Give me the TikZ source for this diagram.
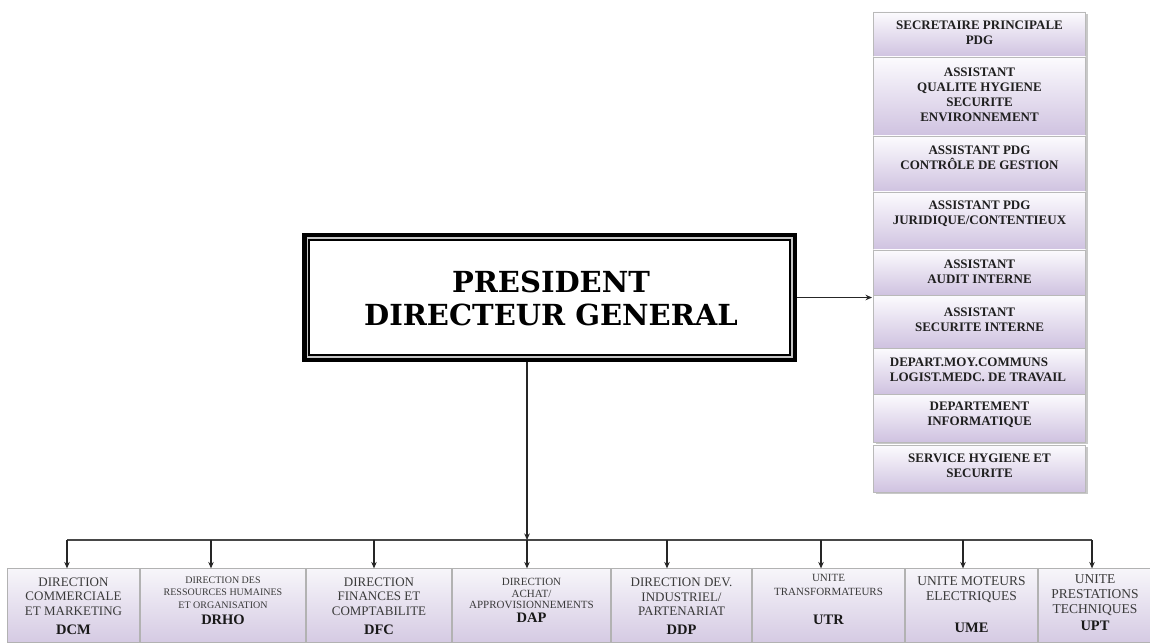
\documentclass[tikz,border=0pt]{standalone}
\usepackage{fontspec}
\setmainfont{Liberation Serif}
\newfontfamily\heavy{DejaVu Serif}
\usetikzlibrary{arrows.meta,shadows}
\definecolor{lavA}{HTML}{FCFBFE}
\definecolor{lavB}{HTML}{CFC2E0}
\definecolor{lavC}{HTML}{F7F6FA}
\definecolor{lavD}{HTML}{D5CAE3}
\definecolor{txtg}{HTML}{3A3A3A}
\begin{document}
\begin{tikzpicture}[x=1pt,y=-1pt,
  rbox/.style={draw=gray!55, line width=0.8pt, top color=lavA, bottom color=lavB,
    minimum width=212.2pt, inner sep=0pt, outer sep=0pt,
    drop shadow={shadow xshift=2.5pt, shadow yshift=-2pt, fill=gray!60, opacity=0.7}},
  rtext/.style={font=\bfseries\fontsize{13}{15}\selectfont, align=center, inner sep=0pt, text=black!88},
  bbox/.style={draw=gray!60, line width=0.8pt, top color=lavC, bottom color=lavD,
    minimum height=74.2pt, inner sep=0pt, outer sep=0pt},
  btext/.style={font=\fontsize{13}{14.5}\selectfont, align=center, inner sep=0pt, text=txtg},
  bcode/.style={font=\bfseries\fontsize{14.5}{16}\selectfont, inner sep=0pt, text=black!90},
  arr/.style={-{Stealth[length=6.5pt,width=5.5pt]}, line width=1.3pt, draw=black!85},
  busline/.style={line width=2.8pt, draw=black!72},
  pdgframe/.style={draw=black, line width=4.5pt, fill=gray!45, minimum width=490.5pt,
    minimum height=124.5pt, inner sep=0pt},
  pdgtext/.style={font=\heavy\bfseries\fontsize{29}{33}\selectfont, align=center, inner sep=0pt}
]
\useasboundingbox (0,0) rectangle (1150,644);
\fill[white] (0,0) rectangle (1150,644);

% ---------- President box ----------
\node[pdgframe] (pdg) at (549.5,297.5) {};
\draw[line width=1.5pt, fill=white] ([shift={(7,7)}]pdg.north west) rectangle ([shift={(-7,-7)}]pdg.south east);
\node[pdgtext] (pdgt) at (551,298.5) {PRESIDENT\\DIRECTEUR GENERAL};

% ---------- Right column ----------
\node[rbox, minimum height=45pt] (r1) at (979.5,34.5) {};
\node[rbox, minimum height=79pt] (r2) at (979.5,96.5) {};
\node[rbox, minimum height=56pt] (r3) at (979.5,164) {};
\node[rbox, minimum height=58pt] (r4) at (979.5,221) {};
\node[rbox, minimum height=45pt] (r5) at (979.5,272.5) {};
\node[rbox, minimum height=53pt] (r6) at (979.5,321.5) {};
\node[rbox, minimum height=46pt] (r7) at (979.5,371) {};
\node[rbox, minimum height=48pt] (r8) at (979.5,418) {};
\node[rbox, minimum height=47pt] (r9) at (979.5,468.5) {};

\node[rtext] (t1) at (979.5,32.5) {SECRETAIRE PRINCIPALE\\PDG};
\node[rtext] (t2) at (979.5,94.5) {ASSISTANT\\QUALITE HYGIENE\\SECURITE\\ENVIRONNEMENT};
\node[rtext] (t3) at (979.5,157.5) {ASSISTANT PDG\\CONTRÔLE DE GESTION};
\node[rtext] (t4) at (979.5,213.5) {ASSISTANT PDG\\JURIDIQUE/CONTENTIEUX};
\node[rtext] (t5) at (979.5,271.5) {ASSISTANT\\AUDIT INTERNE};
\node[rtext] (t6) at (979.5,319.5) {ASSISTANT\\SECURITE INTERNE};
\node[rtext, align=left] (t7) at (978,370) {DEPART.MOY.COMMUNS\\LOGIST.MEDC. DE TRAVAIL};
\node[rtext] (t8) at (979.5,415) {DEPARTEMENT\\INFORMATIQUE};
\node[rtext] (t9) at (979.5,465.5) {SERVICE HYGIENE ET\\SECURITE};

\coordinate (rc) at (872,297.5);
\draw[arr] (pdg.east) -- (rc);

% ---------- Bottom row ----------
\node[bbox, minimum width=132.2pt] (b1) at (73.5,605.5) {};
\node[bbox, minimum width=165.2pt] (b2) at (223,605.5) {};
\node[bbox, minimum width=145.2pt] (b3) at (379,605.5) {};
\node[bbox, minimum width=158.2pt] (b4) at (531.5,605.5) {};
\node[bbox, minimum width=140.2pt] (b5) at (681.5,605.5) {};
\node[bbox, minimum width=152.2pt] (b6) at (828.5,605.5) {};
\node[bbox, minimum width=132.2pt] (b7) at (971.5,605.5) {};
\node[bbox, minimum width=112.2pt] (b8) at (1094.5,605.5) {};

\node[btext] (s1) at (73.5,596.5) {DIRECTION\\COMMERCIALE\\ET MARKETING};
\node[bcode] (c1) at (73.5,630) {DCM};
\node[btext, font=\fontsize{10}{12.5}\selectfont] (s2) at (223,592.5) {DIRECTION DES\\RESSOURCES HUMAINES\\ET ORGANISATION};
\node[bcode] (c2) at (223,620) {DRHO};
\node[btext] (s3) at (379,596.5) {DIRECTION\\FINANCES ET\\COMPTABILITE};
\node[bcode] (c3) at (379,630) {DFC};
\node[btext, font=\fontsize{11}{11.8}\selectfont] (s4) at (531.5,593.5) {DIRECTION\\ACHAT/\\APPROVISIONNEMENTS};
\node[bcode] (c4) at (531.5,618) {DAP};
\node[btext] (s5) at (681.5,597) {DIRECTION DEV.\\INDUSTRIEL/\\PARTENARIAT};
\node[bcode] (c5) at (681.5,630) {DDP};
\node[btext, font=\fontsize{11}{14}\selectfont] (s6) at (828.5,585) {UNITE\\TRANSFORMATEURS};
\node[bcode] (c6) at (828.5,620) {UTR};
\node[btext, font=\fontsize{13.5}{15}\selectfont] (s7) at (971.5,589.5) {UNITE MOTEURS\\ELECTRIQUES};
\node[bcode] (c7) at (971.5,628) {UME};
\node[btext, font=\fontsize{13.5}{15}\selectfont] (s8) at (1095,595) {UNITE\\PRESTATIONS\\TECHNIQUES};
\node[bcode] (c8) at (1095,626) {UPT};

% ---------- Bus and connectors ----------
\coordinate (j) at (527,540);
\coordinate (d1) at (67,540);
\coordinate (d2) at (211,540);
\coordinate (d3) at (374,540);
\coordinate (d4) at (527,540);
\coordinate (d5) at (667,540);
\coordinate (d6) at (821,540);
\coordinate (d7) at (963,540);
\coordinate (d8) at (1092,540);

\draw[busline] (d1) -- (d8);
\draw[arr, line width=1.8pt] (j |- pdg.south) -- (j);
\draw[arr] (d1) -- (d1 |- b1.north);
\draw[arr] (d2) -- (d2 |- b2.north);
\draw[arr] (d3) -- (d3 |- b3.north);
\draw[arr] (d4) -- (d4 |- b4.north);
\draw[arr] (d5) -- (d5 |- b5.north);
\draw[arr] (d6) -- (d6 |- b6.north);
\draw[arr] (d7) -- (d7 |- b7.north);
\draw[arr] (d8) -- (d8 |- b8.north);
\end{tikzpicture}
\end{document}
